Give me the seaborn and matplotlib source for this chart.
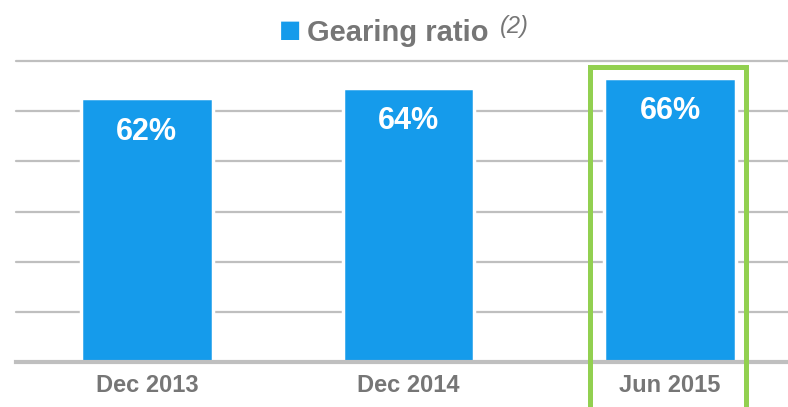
import matplotlib
matplotlib.use("Agg")
import matplotlib.pyplot as plt
import seaborn as sns
import pandas as pd
import numpy as np
from matplotlib.patches import Rectangle

# ---- data ----
categories = ["Dec 2013", "Dec 2014", "Jun 2015"]
gearing = [62, 64, 66]
value_labels = ["62%", "64%", "66%"]
highlight_index = 2

BLUE = "#159BEB"
GREY_TXT = "#767676"
GRID = "#BFBFBF"
GREEN = "#92D050"

sns.set_theme(style="white")
plt.rcParams["font.family"] = ["Liberation Sans", "DejaVu Sans"]

fig = plt.figure(figsize=(7.88, 4.07), dpi=100)
W, H = 788, 407
ax = fig.add_axes([16 / W, (H - 362) / H, 785 / W, (362 - 61) / H])

df = pd.DataFrame({"period": categories, "ratio": gearing})
sns.barplot(data=df, x="period", y="ratio", color=BLUE, saturation=1,
            width=0.502, edgecolor="white", linewidth=2.5, ax=ax, zorder=3)

ymin, ymax = 11.0, 69.2
ax.set_ylim(ymin, ymax)
ax.set_xlim(-0.5, 2.5)
ax.set_yticks(np.linspace(ymin, ymax, 7))
ax.yaxis.grid(True, color=GRID, linewidth=1.6, zorder=1)
for gl in ax.get_ygridlines():
    gl.set_clip_on(False)
ax.set_axisbelow(True)
ax.tick_params(axis="y", left=False, labelleft=False)
ax.tick_params(axis="x", bottom=False, pad=3, labelsize=17, labelcolor=GREY_TXT)
for lab in ax.get_xticklabels():
    lab.set_fontweight("bold")
ax.set_xlabel("")
ax.set_ylabel("")
for s in ["top", "right", "left"]:
    ax.spines[s].set_visible(False)
ax.spines["bottom"].set_color(GRID)
ax.spines["bottom"].set_linewidth(3)
ax.spines["bottom"].set_zorder(5)

# value labels inside bars
for i, (v, t) in enumerate(zip(gearing, value_labels)):
    ax.annotate(t, (i, v), xytext=(0, -24), textcoords="offset points",
                ha="center", va="center", color="white", fontsize=22,
                fontweight="bold", zorder=6)

# highlight box around last bar
rect = Rectangle((highlight_index - 0.305, 0), 0.595, 68.0, fill=False,
                 edgecolor=GREEN, linewidth=3.6, clip_on=False, zorder=7)
ax.add_patch(rect)

# legend-like title
fig.text(290 / W, (H - 30) / H, "\u25A0", color=BLUE, fontsize=17,
         ha="center", va="center", family=["DejaVu Sans"])
fig.text(307 / W, (H - 41) / H, "Gearing ratio", color=GREY_TXT, fontsize=21,
         fontweight="bold", ha="left", va="baseline")
fig.text(500 / W, (H - 33) / H, "(2)", color=GREY_TXT, fontsize=17,
         fontstyle="italic", ha="left", va="baseline")

fig.savefig("out.png", dpi=100)
